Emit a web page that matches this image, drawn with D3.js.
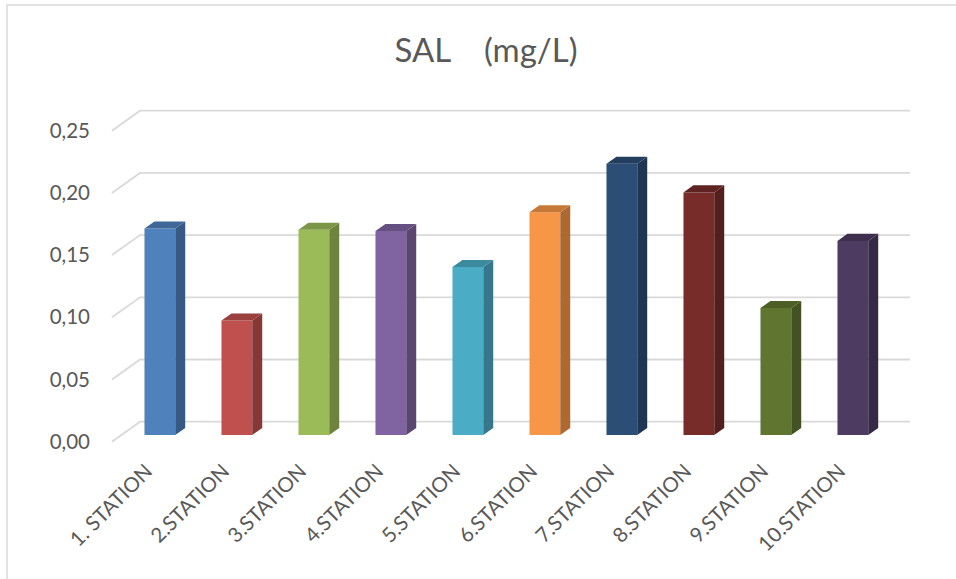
<!DOCTYPE html>
<html>
<head>
<meta charset="utf-8">
<script src="https://cdn.jsdelivr.net/npm/d3@7"></script>
<style>
  html, body { margin: 0; padding: 0; background: #ffffff; }
  svg { display: block; }
  text { font-family: Lato, "Open Sans", sans-serif; fill: #595959; }
</style>
</head>
<body>
<svg id="chart" width="956" height="579"></svg>
<script>
// ---- data ----
const categories = ["1. STATION", "2.STATION", "3.STATION", "4.STATION", "5.STATION",
                    "6.STATION", "7.STATION", "8.STATION", "9.STATION", "10.STATION"];
const values = [0.166, 0.092, 0.165, 0.164, 0.135, 0.179, 0.218, 0.195, 0.102, 0.156];
const yTicks = [0, 0.05, 0.10, 0.15, 0.20, 0.25];
const colors = ["#4F81BD", "#C0504D", "#9BBB59", "#8064A2", "#4BACC6",
                "#F79646", "#2C4D75", "#772C2A", "#5F7530", "#4D3B62"];
const title = "SAL    (mg/L)";

// ---- layout ----
const W = 956, H = 579;
const frontX0 = 112, frontY0 = 441.7;   // origin of front plane
const depthDX = 28, depthDY = -20;       // offset of back wall from front
const plotW = 770, plotH = 311;
const barZ0 = 0.335, barZ1 = 0.69;       // bar front/back depth fractions

const svg = d3.select("#chart");
svg.append("rect").attr("width", W).attr("height", H).attr("fill", "#fff");
// chart border
svg.append("rect").attr("x", 7).attr("y", 5).attr("width", W + 10).attr("height", H + 10)
  .attr("fill", "none").attr("stroke", "#d9d9d9").attr("stroke-width", 1.5);

const x = d3.scaleBand().domain(categories).range([0, plotW]).paddingInner(0.6).paddingOuter(0.3);
const y = d3.scaleLinear().domain([0, 0.25]).range([0, plotH]);

// projection: xv (pixels along category), yv (value pixels), z depth 0..1
function proj(xv, yv, z) {
  return [frontX0 + xv + depthDX * z, frontY0 - yv + depthDY * z];
}

// gridlines (side wall diagonal + back wall)
const grid = svg.append("g").attr("stroke", "#d9d9d9").attr("stroke-width", 1.8).attr("fill", "none");
yTicks.forEach(t => {
  const a = proj(0, y(t), 0), b = proj(0, y(t), 1), c = proj(plotW, y(t), 1);
  grid.append("path").attr("d", `M${a[0]},${a[1]}L${b[0]},${b[1]}L${c[0]},${c[1]}`);
});

// y labels
const fmt = v => d3.format(".2f")(v).replace(".", ",");
svg.append("g").selectAll("text").data(yTicks).join("text")
  .attr("x", 90)
  .attr("y", d => proj(0, y(d), 0)[1])
  .attr("dy", "0.35em")
  .attr("text-anchor", "end")
  .attr("font-size", 20.5)
  .text(fmt);

// bars
const toPts = pts => pts.map(p => p.join(",")).join(" ");
const shade = (c, k) => { const r = d3.rgb(c); return d3.rgb(r.r * k, r.g * k, r.b * k).formatHex(); };
const bars = svg.append("g");
categories.forEach((cat, i) => {
  const x0 = x(cat), x1 = x0 + x.bandwidth();
  const h = y(values[i]);
  const fbl = proj(x0, 0, barZ0), fbr = proj(x1, 0, barZ0);
  const ftl = proj(x0, h, barZ0), ftr = proj(x1, h, barZ0);
  const bbr = proj(x1, 0, barZ1), btl = proj(x0, h, barZ1), btr = proj(x1, h, barZ1);
  const g = bars.append("g");
  g.append("polygon").attr("points", toPts([fbl, fbr, ftr, ftl])).attr("fill", colors[i]);
  g.append("polygon").attr("points", toPts([fbr, bbr, btr, ftr])).attr("fill", shade(colors[i], 0.7));
  g.append("polygon").attr("points", toPts([ftl, ftr, btr, btl])).attr("fill", shade(colors[i], 0.8));
});

// x labels
svg.append("g").selectAll("text").data(categories).join("text")
  .attr("transform", d => {
    const p = proj(x(d) + x.bandwidth() / 2, 0, 0);
    return `translate(${p[0] - 2},${p[1] + 26}) rotate(-45)`;
  })
  .attr("dy", "0.35em")
  .attr("text-anchor", "end")
  .attr("font-size", 20.5)
  .text(d => d);

// title
svg.append("text").attr("x", 486).attr("y", 62).attr("text-anchor", "middle")
  .attr("font-size", 33).style("white-space", "pre").text(title);
</script>
</body>
</html>
